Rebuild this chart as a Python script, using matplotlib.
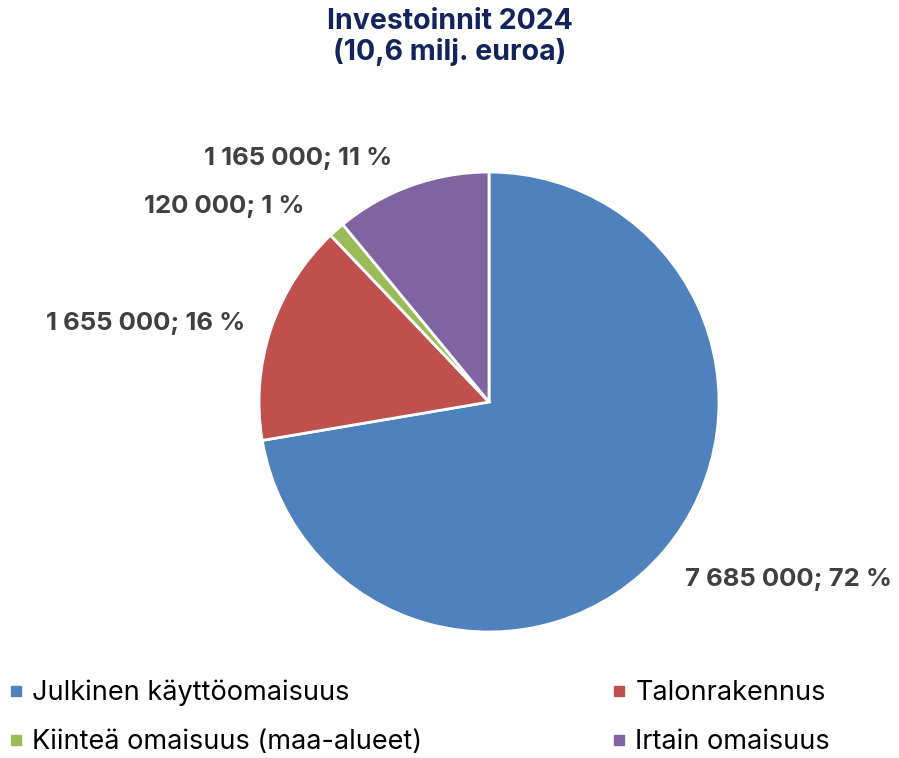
import matplotlib
matplotlib.use("Agg")
import matplotlib.pyplot as plt
from matplotlib.lines import Line2D

categories = ["Julkinen käyttöomaisuus", "Talonrakennus", "Kiinteä omaisuus (maa-alueet)", "Irtain omaisuus"]
values = [7685000, 1655000, 120000, 1165000]
percent_labels = ["72 %", "16 %", "1 %", "11 %"]
colors = ["#4F81BD", "#C0504D", "#9BBB59", "#8064A2"]
title = "Investoinnit 2024\n(10,6 milj. euroa)"

# label anchor positions (data coords of pie axes, radius = 1)
label_pos = [(1.304, -0.770), (-1.491, 0.340), (-1.152, 0.850), (-0.830, 1.060)]

plt.rcParams['font.family'] = ['Inter', 'DejaVu Sans']

fig = plt.figure(figsize=(8.99, 7.58), dpi=100)
ax = fig.add_axes([259/899, 126/758, 460/899, 460/758])
wedges, _ = ax.pie(values, colors=colors, startangle=90, counterclock=False,
                   wedgeprops=dict(edgecolor="white", linewidth=2), radius=1)
ax.set_xlim(-1, 1)
ax.set_ylim(-1, 1)
ax.set_aspect('equal')

def fmt(v):
    return f"{v:,}".replace(",", " ")

for v, p, pos in zip(values, percent_labels, label_pos):
    ax.text(pos[0], pos[1], f"{fmt(v)}; {p}", ha="center", va="center",
            fontsize=18.5, fontweight="bold", color="#404040", clip_on=False)

fig.text(0.5, 1 - 37/758, title, ha="center", va="center", fontsize=20.5,
         fontweight="bold", color="#13245C", linespacing=1.1)

order = [0, 2, 1, 3]
handles = [Line2D([], [], marker='s', linestyle='', markersize=7, color=colors[i]) for i in order]
labels = [categories[i] for i in order]
fig.legend(handles, labels, ncol=2, loc="lower left",
           bbox_to_anchor=(8/899, 3/758, 822/899, 0.12), mode="expand",
           frameon=False, fontsize=19.5, handlelength=0.6, handletextpad=0.3,
           labelspacing=0.85, borderpad=0, borderaxespad=0)

fig.savefig("out.png", dpi=100)
